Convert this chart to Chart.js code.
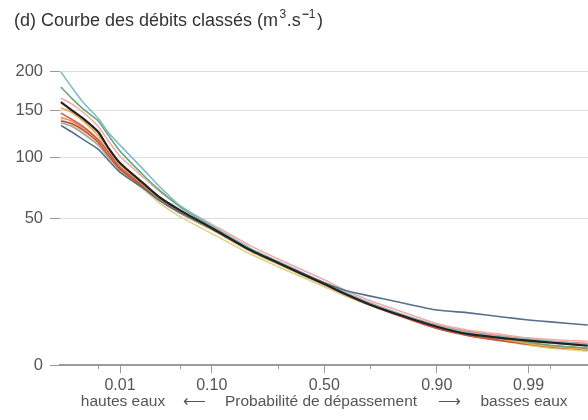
<!DOCTYPE html>
<html><head><meta charset="utf-8">
<script src="https://cdn.jsdelivr.net/npm/chart.js@4/dist/chart.umd.min.js"></script>
<style>html,body{margin:0;padding:0;background:#fff}#wrap{width:588px;height:420px;position:relative}</style>
</head><body><div id="wrap"><canvas id="c" width="588" height="420"></canvas></div>
<script>
// Exceedance probabilities (x) shared by all series
const probabilities = [0.00135,0.002,0.003,0.005,0.007,0.01,0.02,0.03,0.05,0.1,0.2,0.3,0.4,0.5,0.6,0.7,0.8,0.9,0.95,0.98,0.99,0.995,0.99865];
// Flow values (m3/s) per series
const seriesTeal   = [199,179,160,141,125,112,88,74,59,45,31.5,24.8,19.8,15.7,12.0,8.8,6.2,3.6,2.4,1.8,1.5,1.3,1.0];
const seriesGreen  = [179,165,152,138,122,106,83,71,58,44.6,31.4,24.7,19.7,15.6,11.8,8.7,6.1,3.5,2.3,1.6,1.2,0.9,0.65];
const seriesPink   = [165,158,148,132,116,101,81,70,58.5,46,33,26,21,16.8,12.8,9.6,6.9,4.0,2.8,2.1,1.7,1.5,1.3];
const seriesOrange = [153,148,138,122,108,93,75,64,54,42.5,30,23.6,18.8,14.9,11.3,8.4,5.9,3.5,2.4,1.5,1.05,0.8,0.55];
const seriesRed    = [147,140,132,118,105,90,74,64,54.5,43,30.4,24,19.2,15.2,11.5,8.5,5.8,3.2,2.0,1.4,1.05,0.85,0.65];
const seriesCoral  = [142,138,130,117,104,91,75,65,55,43.8,31,24.5,19.6,15.6,11.9,8.9,6.2,3.7,2.6,1.9,1.55,1.3,1.1];
const seriesBrown  = [138,135,128,115,102,89,73,63,53.5,42.6,30.2,23.8,19,15,11.3,8.3,5.7,3.1,2.0,1.3,1.0,0.75,0.55];
const seriesKhaki  = [140,134,126,113,100,88,71,61,51,40,28.5,22.4,17.9,14.2,10.9,8.2,5.8,3.3,2.1,1.3,0.9,0.65,0.45];
const seriesGray   = [136,132,124,112,100,88,73,63.5,54,43,30.6,24.2,19.3,15.3,11.6,8.6,6.1,3.5,2.4,1.7,1.3,1.1,0.9];
const seriesNavy   = [133,126,118,108,97,86,72,63,54,43,30.5,24.2,19.5,15.7,12.8,11.0,9.2,7.0,6.3,5.3,4.7,4.3,3.7];
const seriesBlack  = [160,150.6,141,126,109,94.5,76,65.4,55.6,43.5,30.6,24.1,19.2,15.2,11.5,8.4,5.9,3.4,2.2,1.65,1.37,1.17,0.86];
// Axis ticks
const yTickValues = [0,50,100,150,200];
const xMajorTicks = [0.01,0.10,0.50,0.90,0.99];
const xMinorTicks = [0.005,0.05,0.30,0.70,0.95,0.995];
const xTickLabels = ["0.01","0.10","0.50","0.90","0.99"];
const titleMain = "(d) Courbe des débits classés (m";
const axisLeft = "hautes eaux";
const axisMid = "Probabilité de dépassement";
const axisRight = "basses eaux";

function probit(p){
  const a=[-3.969683028665376e+01,2.209460984245205e+02,-2.759285104469687e+02,1.383577518672690e+02,-3.066479806614716e+01,2.506628277459239e+00];
  const b=[-5.447609879822406e+01,1.615858368580409e+02,-1.556989798598866e+02,6.680131188771972e+01,-1.328068155288572e+01];
  const c=[-7.784894002430293e-03,-3.223964580411365e-01,-2.400758277161838e+00,-2.549732539343734e+00,4.374664141464968e+00,2.938163982698783e+00];
  const d=[7.784695709041462e-03,3.224671290700398e-01,2.445134137142996e+00,3.754408661907416e+00];
  const pl=0.02425, ph=1-pl; let q,r;
  if(p<pl){q=Math.sqrt(-2*Math.log(p));return (((((c[0]*q+c[1])*q+c[2])*q+c[3])*q+c[4])*q+c[5])/((((d[0]*q+d[1])*q+d[2])*q+d[3])*q+1);}
  if(p<=ph){q=p-0.5;r=q*q;return (((((a[0]*r+a[1])*r+a[2])*r+a[3])*r+a[4])*r+a[5])*q/(((((b[0]*r+b[1])*r+b[2])*r+b[3])*r+b[4])*r+1);}
  q=Math.sqrt(-2*Math.log(1-p));return -(((((c[0]*q+c[1])*q+c[2])*q+c[3])*q+c[4])*q+c[5])/((((d[0]*q+d[1])*q+d[2])*q+d[3])*q+1);
}

const series = [
  {v:seriesKhaki, c:'#d8d48e', w:1.6},
  {v:seriesGray, c:'#a7a7a7', w:1.6},
  {v:seriesBrown, c:'#b9503c', w:1.6},
  {v:seriesCoral, c:'#eb8a72', w:1.6},
  {v:seriesRed, c:'#d65a3e', w:1.6},
  {v:seriesOrange, c:'#f2a641', w:1.6},
  {v:seriesPink, c:'#f4aaa8', w:1.6},
  {v:seriesGreen, c:'#6ca873', w:1.6},
  {v:seriesTeal, c:'#7dbdcc', w:1.6},
  {v:seriesNavy, c:'#55708a', w:1.6},
  {v:seriesBlack, c:'#222222', w:2.2}
];

const FONT = "'Liberation Sans', Arial, sans-serif";

const decor = {
  id:'decor',
  afterDraw(chart){
    const ctx = chart.ctx, xs = chart.scales.x;
    ctx.save();
    // minor ticks
    ctx.strokeStyle = '#9a9a9a'; ctx.lineWidth = 1;
    const yb = chart.chartArea.bottom;
    xMinorTicks.forEach(p=>{
      const px = Math.round(xs.getPixelForValue(probit(p)))+0.5;
      ctx.beginPath(); ctx.moveTo(px, yb); ctx.lineTo(px, yb+4); ctx.stroke();
    });
    // title
    ctx.fillStyle = '#333'; ctx.textBaseline='alphabetic'; ctx.textAlign='left';
    ctx.font = "18px " + FONT;
    let x = 14, y = 26;
    ctx.fillText(titleMain, x, y); x += ctx.measureText(titleMain).width + 1.5;
    ctx.font = "12px " + FONT; ctx.fillText("3", x, y-8.5); x += ctx.measureText("3").width + 0.5;
    ctx.font = "18px " + FONT; ctx.fillText(".s", x, y); x += ctx.measureText(".s").width + 1;
    ctx.font = "bold 12px " + FONT; ctx.fillText("\u2212", x, y-8.5); x += ctx.measureText("\u2212").width;
    ctx.font = "12px " + FONT; ctx.fillText("1", x, y-8.5); x += ctx.measureText("1").width + 1.5;
    ctx.font = "18px " + FONT; ctx.fillText(")", x, y);
    // axis title
    ctx.fillStyle = '#555'; ctx.textAlign='center'; ctx.font = "15.5px " + FONT;
    const ya = 406;
    ctx.fillText(axisLeft, 123, ya);
    ctx.fillText("\u27F5", 194, ya);
    ctx.fillText(axisMid, 321, ya);
    ctx.fillText("\u27F6", 449, ya);
    ctx.fillText(axisRight, 524, ya);
    ctx.restore();
  }
};

new Chart(document.getElementById('c'), {
  type:'line',
  data:{ datasets: series.map((s,i)=>({
    data: probabilities.map((p,j)=>({x:probit(p), y:Math.sqrt(s.v[j])})),
    borderColor:s.c, borderWidth:s.w, pointRadius:0, tension:0.2, fill:false,
    order: series.length - i
  }))},
  options:{
    responsive:false, animation:false, devicePixelRatio:1,
    layout:{padding:{top:65,left:0,right:0,bottom:0}},
    plugins:{legend:{display:false}, tooltip:{enabled:false}, title:{display:false}},
    scales:{
      x:{ type:'linear', min:-3.01, max:3.003,
        afterBuildTicks:(s)=>{ s.ticks = xMajorTicks.map(p=>({value:probit(p)})); },
        afterFit:(s)=>{ s.height = 55; },
        ticks:{ autoSkip:false, maxRotation:0, padding:3, color:'#555', font:{family:FONT,size:16},
          callback:(v,i)=>xTickLabels[i] },
        grid:{ drawOnChartArea:false, drawTicks:true, tickLength:8, tickColor:'#9a9a9a', tickWidth:1 },
        border:{ display:true, color:'#9a9a9a', width:1.5 }
      },
      y:{ type:'linear', min:0, max:14.44,
        afterBuildTicks:(s)=>{ s.ticks = yTickValues.map(v=>({value:Math.sqrt(v)})); },
        afterFit:(s)=>{ s.width = 60; },
        ticks:{ autoSkip:false, padding:7, color:'#555', font:{family:FONT,size:16.5},
          callback:(v,i)=>String(yTickValues[i]) },
        grid:{ color:(c)=> (c.tick && c.tick.value===0) ? '#9a9a9a' : '#dddddd', lineWidth:1,
          tickLength:10, tickColor:'#9a9a9a' },
        border:{ display:false }
      }
    }
  },
  plugins:[decor]
});
</script></body></html>
